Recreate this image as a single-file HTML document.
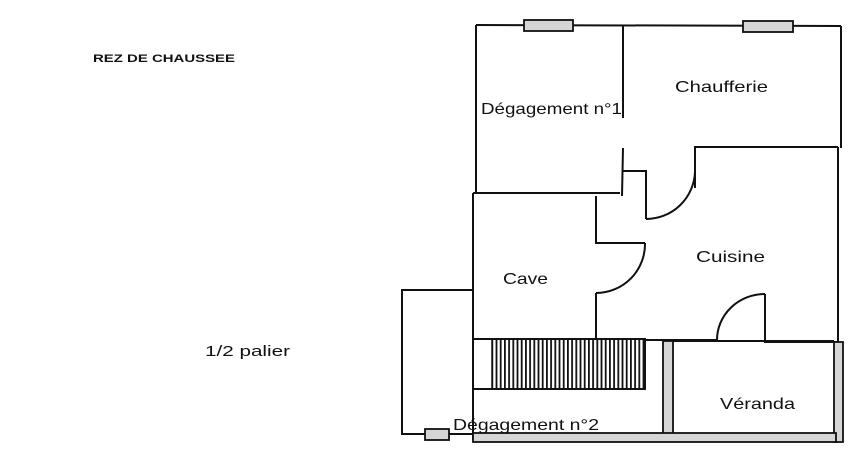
<!DOCTYPE html>
<html><head><meta charset="utf-8"><style>
html,body{margin:0;padding:0;background:#fff;width:867px;height:468px;overflow:hidden}
svg{display:block}
text{font-family:"Liberation Sans",sans-serif;fill:#111}
</style></head><body>
<svg width="867" height="468" viewBox="0 0 867 468" xmlns="http://www.w3.org/2000/svg">
<defs>
<pattern id="st" width="4.2" height="10" patternUnits="userSpaceOnUse">
<rect x="0" y="0" width="1.8" height="10" fill="#111"/>
</pattern>
</defs>
<g fill="none" stroke="#111" stroke-width="2">
<line x1="476" y1="25" x2="841" y2="26"/>
<line x1="476" y1="25" x2="476" y2="193"/>
<line x1="473" y1="193" x2="473" y2="440"/>
<line x1="623" y1="26" x2="623" y2="118"/>
<line x1="623" y1="148" x2="622" y2="196"/>
<line x1="841" y1="26" x2="841" y2="148"/>
<line x1="473" y1="193" x2="620" y2="193"/>
<polyline points="622,171 646,171 646,219"/>
<path d="M646,219 A49,49 0 0 0 695,172"/>
<line x1="695" y1="188" x2="695" y2="147"/>
<line x1="694" y1="147" x2="838" y2="147"/>
<line x1="838" y1="147" x2="838" y2="342"/>
<polyline points="596,196 596,243 645,243"/>
<path d="M645,243 A49,49 0 0 1 596,293"/>
<line x1="596" y1="293" x2="596" y2="341"/>
<line x1="473" y1="340" x2="717" y2="340"/>
<path d="M717,340 A48,46 0 0 1 765,294"/>
<polyline points="765,294 765,342 838,342"/>
<polyline points="473,290 402,290 402,434 425,434"/>
<line x1="449" y1="434" x2="473" y2="434"/>
</g>
<rect x="473" y="339" width="172" height="50" fill="#fff" stroke="#111" stroke-width="2"/>
<rect x="492" y="340" width="152" height="48" fill="url(#st)"/>
<line x1="492" y1="339" x2="492" y2="389" stroke="#111" stroke-width="1.5"/>
<g fill="#d6d6d6" stroke="#111" stroke-width="1.8">
<rect x="524" y="20" width="49" height="11"/>
<rect x="743" y="21" width="50" height="11"/>
<rect x="663" y="341" width="10" height="99"/>
<rect x="834" y="342" width="9" height="100"/>
<rect x="473" y="433" width="363" height="9"/>
<rect x="425" y="429" width="24" height="11"/>
</g>
<line x1="673" y1="341" x2="834" y2="341" stroke="#111" stroke-width="2"/>
<text x="93" y="62" font-size="11" font-weight="bold" textLength="142" lengthAdjust="spacingAndGlyphs">REZ DE CHAUSSEE</text>
<text x="481" y="114" font-size="16" textLength="141" lengthAdjust="spacingAndGlyphs">Dégagement n°1</text>
<text x="675" y="92" font-size="16" textLength="93" lengthAdjust="spacingAndGlyphs">Chaufferie</text>
<text x="696" y="262" font-size="16" textLength="69" lengthAdjust="spacingAndGlyphs">Cuisine</text>
<text x="503" y="284" font-size="16" textLength="45" lengthAdjust="spacingAndGlyphs">Cave</text>
<text x="720" y="409" font-size="16" textLength="75" lengthAdjust="spacingAndGlyphs">Véranda</text>
<text x="205" y="356" font-size="15" textLength="85" lengthAdjust="spacingAndGlyphs">1/2 palier</text>
<text x="453" y="430" font-size="16" textLength="146" lengthAdjust="spacingAndGlyphs">Dégagement n°2</text>
</svg>
</body></html>
